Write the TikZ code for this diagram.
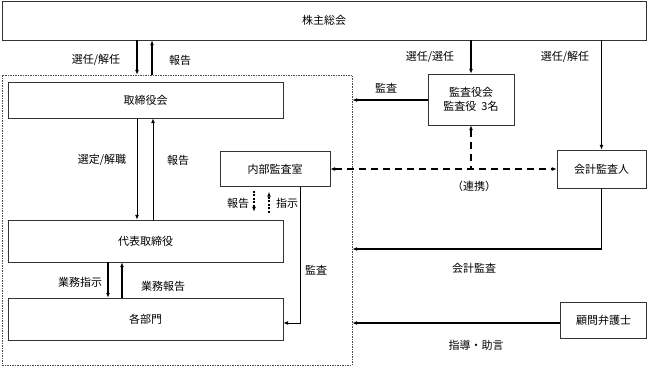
\documentclass[tikz,border=0pt]{standalone}
\usepackage{fontspec}
\setmainfont{Noto Sans CJK JP}
\usetikzlibrary{arrows.meta}
\begin{document}
\begin{tikzpicture}[
    x=1pt, y=-1pt,
    >={Latex[length=5pt,width=4pt]},
    box/.style={
        draw=black!80,
        align=center,
        font=\fontsize{11}{13.5}\selectfont,
        inner sep=0pt
    },
    lbl/.style={font=\fontsize{11}{13.5}\selectfont, inner sep=1pt},
    arr/.style={->, line width=1.4pt},
    thinarr/.style={->, line width=1pt},
    link/.style={<->, line width=1.4pt, dash pattern=on 7pt off 5pt},
    dotarr/.style={->, line width=1.4pt, dash pattern=on 2pt off 1.5pt}
]
    \useasboundingbox (0,0) rectangle (648,367);
    \node[box, minimum width=644pt, minimum height=39pt] (gm) at (324,20.5) {株主総会};
    \node[draw=black!70, dash pattern=on 1.5pt off 1pt, minimum width=350pt, minimum height=290pt, inner sep=0pt] (grp) at (177,220) {};
    \node[box, minimum width=275pt, minimum height=36pt] (board) at (145.5,100) {取締役会};
    \node[box, minimum width=275pt, minimum height=42pt] (ceo) at (145.5,241) {代表取締役};
    \node[box, minimum width=275pt, minimum height=42pt] (dept) at (145.5,319) {各部門};
    \node[box, minimum width=110pt, minimum height=35pt] (ia) at (275,169) {内部監査室};
    \node[box, minimum width=86pt, minimum height=51pt] (kansa) at (471,99.5) {監査役会\\監査役\ \ 3名};
    \node[box, minimum width=89pt, minimum height=38pt] (acct) at (601.5,169) {会計監査人};
    \node[box, minimum width=86pt, minimum height=36pt] (law) at (603.5,320) {顧問弁護士};

    \draw[arr] (gm.south -| 137,0) -- (grp.north -| 137,0);
    \draw[arr] (grp.north -| 152,0) -- (gm.south -| 152,0);
    \node[lbl] (l1) at (96,60) {選任/解任};
    \node[lbl] (l2) at (180,60) {報告};

    \draw[arr] (gm.south -| kansa.north) -- (kansa.north);
    \node[lbl] (l3) at (430,57) {選任/選任};
    \draw[arr] (gm.south -| acct.north) -- (acct.north);
    \node[lbl] (l4) at (565,57) {選任/解任};

    \draw[arr] (kansa.west |- 0,100) -- (grp.east |- 0,100);
    \node[lbl] (l5) at (386,88) {監査};

    \draw[thinarr] (board.south -| 137,0) -- (ceo.north -| 137,0);
    \draw[thinarr] (ceo.north -| 153,0) -- (board.south -| 153,0);
    \node[lbl] (l6) at (102,160) {選定/解職};
    \node[lbl] (l7) at (178,160) {報告};

    \draw[link] (ia.east) -- (acct.west);
    \draw[link, <-] (kansa.south) -- (kansa.south |- acct.west);
    \node[lbl] (l8) at (474,186) {（連携）};

    \draw[dotarr, shorten <=4pt, shorten >=8pt] (ia.south -| 254,0) -- (ceo.north -| 254,0);
    \draw[dotarr, shorten <=7pt, shorten >=5pt] (ceo.north -| 269,0) -- (ia.south -| 269,0);
    \node[lbl] (l9) at (238,203) {報告};
    \node[lbl] (l10) at (287,203) {指示};

    \draw[thinarr] (ia.south -| 300,0) |- (dept.east |- 0,323);
    \node[lbl] (l11) at (316,270) {監査};

    \draw[arr] (acct.south) |- (grp.east |- 0,249);
    \node[lbl] (l12) at (474,268) {会計監査};

    \draw[arr] (ceo.south -| 108,0) -- (dept.north -| 108,0);
    \draw[arr] (dept.north -| 122,0) -- (ceo.south -| 122,0);
    \node[lbl] (l13) at (80,282) {業務指示};
    \node[lbl] (l14) at (163,286) {業務報告};

    \draw[arr] (law.west |- 0,323) -- (grp.east |- 0,323);
    \node[lbl] (l15) at (476,345) {指導・助言};
\end{tikzpicture}
\end{document}
